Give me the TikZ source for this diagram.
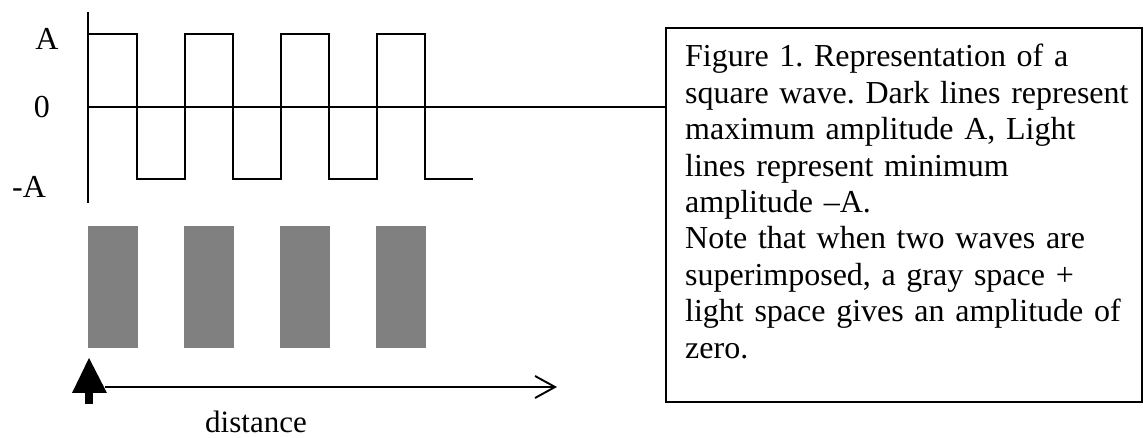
\documentclass[tikz,border=0pt]{standalone}
\usepackage{fontspec}
\setmainfont{Liberation Serif}
\usetikzlibrary{arrows.meta}
\frenchspacing
\begin{document}
\begin{tikzpicture}[x=1pt,y=-1pt,
  ln/.style={line width=1.9pt},
  bar/.style={fill=black!50,draw=none},
  lbl/.style={font=\fontsize{32}{36.4}\selectfont,inner sep=0pt}]
\useasboundingbox (0,0) rectangle (1144,438);
% axis
\coordinate (axtop) at (88,12);
\coordinate (axbot) at (88,203);
\draw[ln] (axtop) -- (axbot);
% labels
\node[lbl] (lA) at (47,39) {A};
\node[lbl] (l0) at (42,107) {0};
\node[lbl] (lmA) at (29,187) {-A};
% caption box
\node[draw,ln,anchor=north west,minimum width=476pt,minimum height=374pt,inner sep=0pt] (box) at (665,27) {};
\node[lbl,anchor=base west,align=left,text width=450pt] (cap) at (685,67)
{\frenchspacing Figure 1. Representation of a\\
square wave. Dark lines represent\\
maximum amplitude A, Light\\
lines represent minimum\\
amplitude –A.\\
Note that when two waves are\\
superimposed, a gray space +\\
light space gives an amplitude of\\
zero.};
% zero line
\coordinate (z0) at (88,107);
\draw[ln] (z0) -- (z0 -| box.west);
% square wave
\draw[ln] (88,34) -- (137,34) -- (137,179) -- (185,179) -- (185,34) -- (233,34) -- (233,179)
  -- (281,179) -- (281,34) -- (329,34) -- (329,179) -- (377,179) -- (377,34) -- (425,34)
  -- (425,179) -- (473,179);
% gray bars
\foreach \x in {88,184,280,376}{
  \fill[bar] (\x,226) rectangle ++(50,122);
}
% distance arrow
\coordinate (ds) at (105,387);
\coordinate (de) at (557,387);
\draw[ln,-{Straight Barb[length=20pt,width=22pt,line width=1.9pt]}] (ds) -- (de);
% up arrow
\fill (85,404) rectangle (93,392);
\fill (72,393) -- (89,358) -- (107,393) -- cycle;
\node[lbl,font=\fontsize{31}{36}\selectfont,anchor=base,text depth=0pt] (dist) at (256,432) {distance};
\end{tikzpicture}
\end{document}
